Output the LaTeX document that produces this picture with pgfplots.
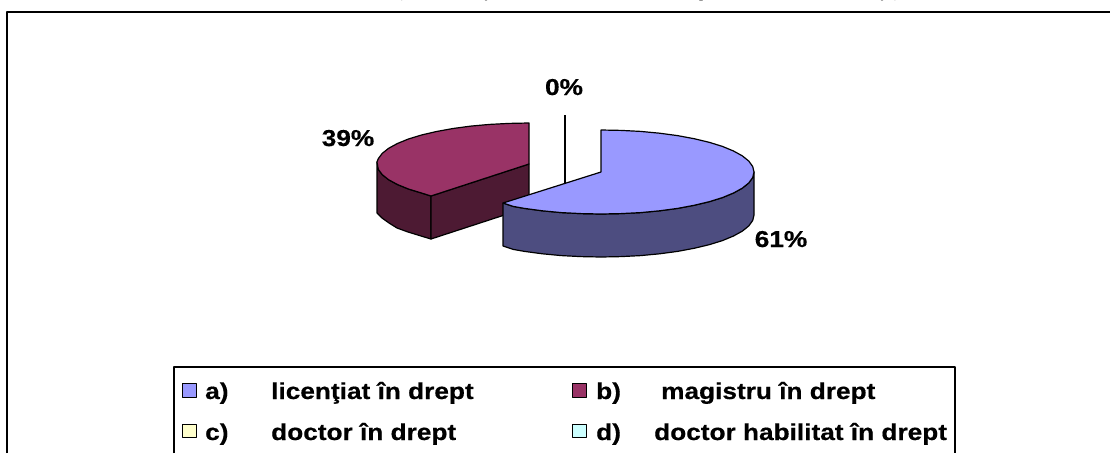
\documentclass[border=0pt]{standalone}
\usepackage{fontspec}
\setmainfont[BoldFeatures={FakeBold=0.5,FakeStretch=1.14}]{Liberation Sans}
\newfontfamily\titlefont{Liberation Serif}
\usepackage{pgfplots}
\pgfplotsset{compat=1.18}
\definecolor{bluetop}{HTML}{9999FF}
\definecolor{blueside}{HTML}{4D4D80}
\definecolor{redtop}{HTML}{993366}
\definecolor{redside}{HTML}{4D1A33}
\definecolor{ltyellow}{HTML}{FFFFCC}
\definecolor{ltcyan}{HTML}{CCFFFF}
\newcommand{\lab}[1]{\fontsize{23pt}{25pt}\selectfont\bfseries #1}
\tikzset{leg/.style={anchor=base west,inner sep=0pt},dat/.style={anchor=base,inner sep=0pt},
  captxt/.style={overlay,anchor=base,inner sep=0pt,font=\titlefont\fontsize{16pt}{18pt}\selectfont}}
\begin{document}
\begin{tikzpicture}
\begin{axis}[
  scale only axis, width=1110pt, height=453pt,
  xmin=0, xmax=1110, ymin=0, ymax=453, y dir=reverse,
  hide axis, clip=true,
  every axis plot/.append style={line join=round},
]
% page corners, keeps the picture at full size
\addplot[draw=none,forget plot] coordinates {(0,0) (1110,453)};
% outer frame, open at right and bottom
\addplot[black,line width=1.8pt] coordinates {(7,453) (7,12) (1110,12)};

% b) 39% - side, cut face, top
\addplot[fill=redside,draw=black,line width=1.2pt] coordinates {
  (377,162) (377,213) (382,218) (389,223) (397,228) (408,232) (421,236) (431,239) (431,196)
  (421.5,193) (408.4,189) (397.4,184.5) (388.6,179.7) (382.2,174.6) (378.3,169.4)} -- cycle;
\addplot[fill=redside,draw=black,line width=1.2pt] coordinates {
  (431,196) (431,239) (529,207) (529,164)} -- cycle;
\addplot[fill=redtop,draw=black,line width=1.2pt] coordinates {
  (529,164) (431,196) (421.5,193) (408.4,189) (397.4,184.5) (388.6,179.7) (382.2,174.6) (378.3,169.4)
  (377,162) (378.3,158.6) (382.2,153.4) (388.6,148.3) (397.4,143.5) (408.4,139) (421.5,135)
  (436.5,131.5) (453,128.5) (470.8,126.1) (489.7,124.4) (509.2,123.4) (529,123)} -- cycle;

% c), d) 0% - leader line
\addplot[black,line width=1.2pt] coordinates {(565,115) (565,183)};

% a) 61% - side, top
\addplot[fill=blueside,draw=black,line width=1.2pt] coordinates {
  (754,172) (752.7,177.5) (748.8,182.9) (742.4,188.1) (733.5,193) (722.4,197.6) (709.2,201.7)
  (694.1,205.3) (677.5,208.4) (659.6,210.8) (640.6,212.6) (621,213.6) (601,214) (581,213.6)
  (561.4,212.6) (542.4,210.8) (524.5,208.4) (513.2,206.4) (503,203)
  (503,246) (513.2,249.4) (524.5,251.4) (542.4,253.8) (561.4,255.6) (581,256.6) (601,257)
  (621,256.6) (640.6,255.6) (659.6,253.8) (677.5,251.4) (694.1,248.3) (709.2,244.7)
  (722.4,240.6) (733.5,236) (742.4,231.1) (748.8,225.9) (752.7,220.5) (754,215)} -- cycle;
\addplot[fill=bluetop,draw=black,line width=1.2pt] coordinates {
  (601,172) (601,130) (621,130.4) (640.6,131.4) (659.6,133.2) (677.5,135.6) (694.1,138.7)
  (709.2,142.3) (722.4,146.4) (733.5,151) (742.4,155.9) (748.8,161.1) (752.7,166.5) (754,172)
  (752.7,177.5) (748.8,182.9) (742.4,188.1) (733.5,193) (722.4,197.6) (709.2,201.7)
  (694.1,205.3) (677.5,208.4) (659.6,210.8) (640.6,212.6) (621,213.6) (601,214) (581,213.6)
  (561.4,212.6) (542.4,210.8) (524.5,208.4) (513.2,206.4) (503,203)} -- cycle;

% legend box, open at the bottom
\addplot[black,line width=1.2pt] coordinates {(174,453) (174,367) (955,367) (955,453)};
% legend keys
\addplot[fill=bluetop,draw=black,line width=.9pt] coordinates {(182.5,383.5) (196,383.5) (196,397) (182.5,397)} -- cycle;
\addplot[fill=redtop,draw=black,line width=.9pt] coordinates {(572.5,383.5) (586,383.5) (586,397) (572.5,397)} -- cycle;
\addplot[fill=ltyellow,draw=black,line width=.9pt] coordinates {(182.5,424) (196,424) (196,437.5) (182.5,437.5)} -- cycle;
\addplot[fill=ltcyan,draw=black,line width=.9pt] coordinates {(572.5,424) (586,424) (586,437.5) (572.5,437.5)} -- cycle;

% data labels
\node[dat] at (axis cs:564,95) {\lab{0\%}};
\node[dat] at (axis cs:348,146) {\lab{39\%}};
\node[dat] at (axis cs:781,247) {\lab{61\%}};

% legend text
\node[leg] at (axis cs:205,399) {\lab{a)}};
\node[leg] at (axis cs:271,399) {\lab{licenţiat în drept}};
\node[leg] at (axis cs:596,399) {\lab{b)}};
\node[leg] at (axis cs:661,399) {\lab{magistru în drept}};
\node[leg] at (axis cs:205,440) {\lab{c)}};
\node[leg] at (axis cs:271,440) {\lab{doctor în drept}};
\node[leg] at (axis cs:596,440) {\lab{d)}};
\node[leg] at (axis cs:654,440) {\lab{doctor habilitat în drept}};

% what is left of the caption above the frame, cut off by the page edge
\node[captxt] at (axis cs:400,-3) {(};
\node[captxt] at (axis cs:486,-3) {ţ};
\node[captxt] at (axis cs:703,-3) {p};
\node[captxt] at (axis cs:882,-3) {ţ};
\node[captxt] at (axis cs:897,-3) {)};
\end{axis}
\end{tikzpicture}
\end{document}
